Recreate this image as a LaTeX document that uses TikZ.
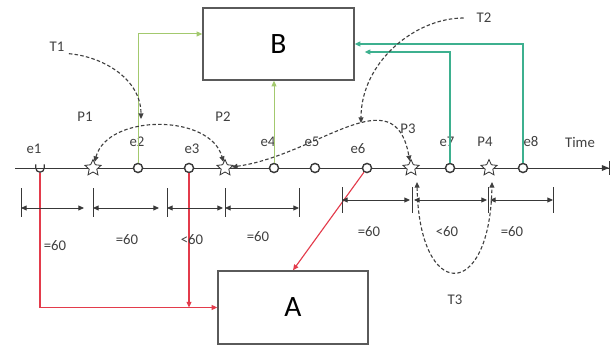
\documentclass[tikz,border=0pt]{standalone}
\usepackage{fontspec}
\setmainfont{Carlito}
\usetikzlibrary{positioning,shapes.geometric,arrows.meta}

\definecolor{boxgray}{HTML}{5A5A5A}
\definecolor{linegray}{HTML}{383838}
\definecolor{ltgreen}{HTML}{A3C96E}
\definecolor{tealgreen}{HTML}{3DB08F}
\definecolor{redline}{HTML}{E33B4B}

\tikzset{
  evt/.style={circle, draw=linegray, fill=white, line width=1pt, inner sep=0pt, minimum size=6.5pt},
  starpt/.style={star, star points=5, star point ratio=2.1, draw=linegray, fill=white, line width=0.6pt, inner sep=0pt, minimum size=12pt},
  lbl/.style={font=\fontsize{10.5}{12}\selectfont, text=black!75, inner sep=1pt},
  box/.style={draw=boxgray, line width=1pt, fill=white, font=\fontsize{21}{24}\selectfont},
  tip/.style={-{Triangle[length=4pt,width=3.5pt]}},
  dim/.style={{Triangle[length=4pt,width=3.5pt]}-{Triangle[length=4pt,width=3.5pt]}, line width=0.6pt, draw=linegray},
  tick/.style={line width=0.6pt, draw=linegray},
  dsh/.style={dashed, dash pattern=on 2.5pt off 1.6pt, line width=0.8pt, draw=black!75},
}

\begin{document}
\begin{tikzpicture}[x=0.025cm,y=0.025cm]
\useasboundingbox (0,0) rectangle (615,347);

\def\ty{179}

% boxes
\node[box, minimum width=3.775cm, minimum height=1.8cm] (B) at (278.5,303) {B};
\node[box, minimum width=3.75cm, minimum height=1.825cm] (A) at (293,39.5) {A};

% time axis
\coordinate (t0) at (15,\ty);
\coordinate (t1) at (610,\ty);
\draw[line width=0.7pt, draw=linegray, -{Triangle[length=5pt,width=4pt] Bar[width=10pt]}] (t0) -- (t1);
\node[lbl] (time) at (580,205) {Time};

% events
\node[circle, inner sep=0pt, minimum size=6.5pt] (e1) at (40,\ty) {};
\draw[line width=0.9pt, draw=linegray] ([shift={(-3pt,2.5pt)}]e1.center) -- ([shift={(-3pt,0pt)}]e1.center)
  arc[start angle=180, end angle=360, radius=3pt] -- ++(0,2.5pt);
\node[evt] (e2) at (138,\ty) {};
\node[evt] (e3) at (189,\ty) {};
\node[evt] (e4) at (274,\ty) {};
\node[evt] (e5) at (315,\ty) {};
\node[evt] (e6) at (367,\ty) {};
\node[evt] (e7) at (450,\ty) {};
\node[evt] (e8) at (523,\ty) {};

\node[starpt] (p1) at (93,\ty) {};
\node[starpt] (p2) at (225,\ty) {};
\node[starpt] (p3) at (411,\ty) {};
\node[starpt] (p4) at (489,\ty) {};

\node[lbl] (le1) at (34,198) {e1};
\node[lbl] (le2) at (137,205) {e2};
\node[lbl] (le3) at (192,198) {e3};
\node[lbl] (le4) at (268,205) {e4};
\node[lbl] (le5) at (312,205) {e5};
\node[lbl] (le6) at (358,198) {e6};
\node[lbl] (le7) at (447,205) {e7};
\node[lbl] (le8) at (531,205) {e8};

\node[lbl] (lp1) at (85,230) {P1};
\node[lbl] (lp2) at (223,230) {P2};
\node[lbl] (lp3) at (408,218) {P3};
\node[lbl] (lp4) at (485,205) {P4};

% reports up to B
\draw[ltgreen, line width=0.7pt, tip] (e2) |- ([yshift=0.25cm]B.west);
\draw[ltgreen, line width=0.7pt, tip] (e4) -- (e4 |- B.south);
\draw[tealgreen, line width=0.9pt, tip] (e8) |- (B.east);
\draw[tealgreen, line width=0.9pt, tip, shorten >=0.25cm] (e7) |- ([yshift=-0.2cm]B.east);

% events down to A
\coordinate (rj) at (189,39.5);
\draw[redline, line width=0.8pt, tip] (e1.south) |- (A.west);
\draw[redline, line width=0.8pt, tip] (e3) -- (rj);
\draw[redline, line width=0.8pt, tip] (e6) -- (A.north);

% timers
\node[lbl] (T1) at (57,300) {T1};
\node[lbl] (T2) at (484,329) {T2};
\node[lbl] (T3) at (455,47) {T3};
\coordinate (t1end) at (141,228);
\coordinate (t2end) at (361,224);
\coordinate (t3a) at (417,165);
\coordinate (t3b) at (492,165);

\draw[dsh, tip, shorten <=2pt] (T1.south east) to[out=-5, in=90] (t1end);
\draw[dsh, tip, shorten <=8pt] (T2.west) to[out=180, in=90] (t2end);
\draw[dsh, {Triangle[length=4pt,width=3.5pt]}-{Triangle[length=4pt,width=3.5pt]}] (p1) to[out=75, in=105] (p2);
\draw[dsh, {Triangle[length=4pt,width=3.5pt]}-{Triangle[length=4pt,width=3.5pt]}] (p2) to[out=8, in=100, looseness=1.25] (p3);
\draw[dsh, {Triangle[length=4pt,width=3.5pt]}-{Triangle[length=4pt,width=3.5pt]}] (t3a) .. controls (419,45) and (490,45) .. (t3b);

% intervals
\foreach \x in {21,93,167,225,299}
  \draw[tick] (\x,130) -- (\x,159);
\foreach \x in {342,412,488,553}
  \draw[tick] (\x,134) -- (\x,160);

\coordinate (a1) at (21,139);  \coordinate (a1r) at (84,139);
\coordinate (a2) at (93,139);  \coordinate (a2r) at (159,139);
\coordinate (a3) at (167,139); \coordinate (a3r) at (223,139);
\coordinate (a4) at (225,139); \coordinate (a4r) at (299,139);
\coordinate (b1) at (342,147); \coordinate (b1r) at (410,147);
\coordinate (b2) at (414,147); \coordinate (b2r) at (487,147);
\coordinate (b3) at (490,147); \coordinate (b3r) at (553,147);
\draw[dim] (a1) -- (a1r);
\draw[dim] (a2) -- (a2r);
\draw[dim] (a3) -- (a3r);
\draw[dim] (a4) -- (a4r);
\draw[dim] (b1) -- (b1r);
\draw[dim] (b2) -- (b2r);
\draw[dim] (b3) -- (b3r);

\node[lbl] (d1) at (55,101) {=60};
\node[lbl] (d2) at (127,107) {=60};
\node[lbl] (d3) at (192,107) {<60};
\node[lbl] (d4) at (258,110) {=60};
\node[lbl] (d5) at (369,115) {=60};
\node[lbl] (d6) at (447,115) {<60};
\node[lbl] (d7) at (512,115) {=60};

\end{tikzpicture}
\end{document}
